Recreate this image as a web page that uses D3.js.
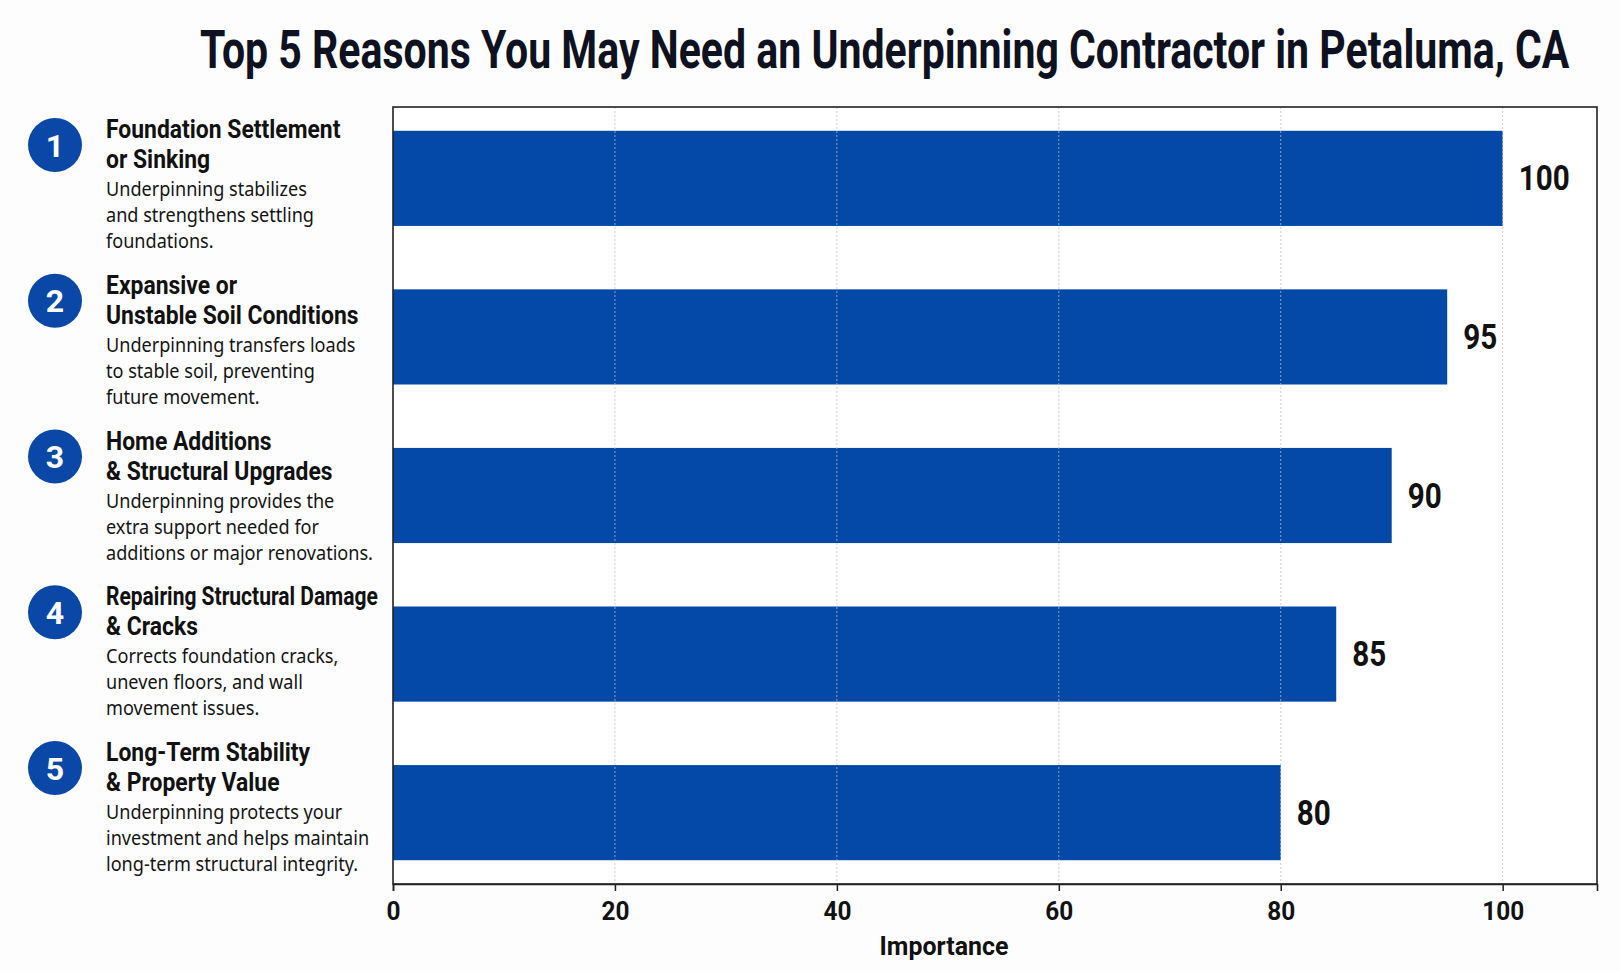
<!DOCTYPE html>
<html>
<head>
<meta charset="utf-8">
<script src="https://cdn.jsdelivr.net/npm/d3@7"></script>
<style>
  html, body { margin: 0; padding: 0; background: #fdfdfd; }
  svg { display: block; }
</style>
</head>
<body>
<div id="chart"></div>
<script>
// ========================
// Data
// ========================
const ranks = ["1", "2", "3", "4", "5"];
const titleLines = [
    ["Foundation Settlement", "or Sinking"],
    ["Expansive or", "Unstable Soil Conditions"],
    ["Home Additions", "& Structural Upgrades"],
    ["Repairing Structural Damage", "& Cracks"],
    ["Long-Term Stability", "& Property Value"]
];
const descLines = [
    ["Underpinning stabilizes", "and strengthens settling", "foundations."],
    ["Underpinning transfers loads", "to stable soil, preventing", "future movement."],
    ["Underpinning provides the", "extra support needed for", "additions or major renovations."],
    ["Corrects foundation cracks,", "uneven floors, and wall", "movement issues."],
    ["Underpinning protects your", "investment and helps maintain", "long-term structural integrity."]
];
const importance = [100, 95, 90, 85, 80];
const xTicks = [0, 20, 40, 60, 80, 100];

const chartTitle = "Top 5 Reasons You May Need an Underpinning Contractor in Petaluma, CA";
const xLabel = "Importance";

// ========================
// Setup
// ========================
const width = 1620, height = 971;
const plot = { left: 393, right: 1597, top: 107, bottom: 884 };
const blue = "#0449a8";
const boldFont = "Roboto, 'Noto Sans', sans-serif";
const bodyFont = "'Noto Sans', 'Open Sans', sans-serif";

const svg = d3.select("#chart")
    .append("svg")
    .attr("width", width)
    .attr("height", height);

svg.append("rect")
    .attr("width", width).attr("height", height)
    .attr("fill", "#fdfdfd");

// condensed look: squeeze text horizontally by sx
function addText(parent, str, x, y, opts) {
    const g = parent.append("g")
        .attr("transform", `translate(${x},${y}) scale(${opts.sx || 1},1)`);
    return g.append("text")
        .attr("font-family", opts.family)
        .attr("font-weight", opts.weight || "normal")
        .attr("font-size", opts.size)
        .attr("fill", opts.fill || "#111")
        .attr("text-anchor", opts.anchor || "start")
        .text(str);
}

function measure(str, family, weight, size) {
    const t = svg.append("text")
        .attr("font-family", family)
        .attr("font-weight", weight)
        .attr("font-size", size)
        .text(str);
    const w = t.node().getComputedTextLength();
    t.remove();
    return w;
}

const cats = ranks;
const x = d3.scaleLinear()
    .domain([0, 108.5])
    .range([plot.left, plot.right]);

const y = d3.scaleBand()
    .domain(cats)
    .range([plot.top, plot.bottom])
    .paddingInner(0.4)
    .paddingOuter(0.15);

const listY = d3.scalePoint()
    .domain(cats)
    .range([145, 768]);

// ========================
// Title
// ========================
const titleScale = 1370 / measure(chartTitle, boldFont, "bold", 53);
addText(svg, chartTitle, 200, 68, {
    family: boldFont, weight: "bold", size: 53, fill: "#0e1220", sx: titleScale
});

// ========================
// Plot area
// ========================
svg.append("rect")
    .attr("x", plot.left).attr("y", plot.top)
    .attr("width", plot.right - plot.left)
    .attr("height", plot.bottom - plot.top)
    .attr("fill", "#ffffff");

// bars
svg.selectAll(".bar")
    .data(importance)
    .enter()
    .append("rect")
    .attr("class", "bar")
    .attr("x", x(0))
    .attr("y", (d, i) => y(cats[i]))
    .attr("width", d => x(d) - x(0))
    .attr("height", y.bandwidth())
    .attr("fill", blue);

// gridlines (drawn over the bars, faint)
svg.selectAll(".grid")
    .data(xTicks.filter(t => t > 0))
    .enter()
    .append("line")
    .attr("class", "grid")
    .attr("x1", d => x(d)).attr("x2", d => x(d))
    .attr("y1", plot.top).attr("y2", plot.bottom)
    .attr("stroke", "#bdbdbd")
    .attr("stroke-opacity", 0.75)
    .attr("stroke-width", 1)
    .attr("stroke-dasharray", "2,2");

// value labels
const valScale = 51 / measure("100", boldFont, "bold", 35);
importance.forEach((d, i) => {
    addText(svg, d, x(d) + 16, y(cats[i]) + y.bandwidth() / 2 + 12, {
        family: boldFont, weight: "bold", size: 35, fill: "#111", sx: valScale
    });
});

// frame
svg.append("rect")
    .attr("x", plot.left).attr("y", plot.top)
    .attr("width", plot.right - plot.left)
    .attr("height", plot.bottom - plot.top)
    .attr("fill", "none")
    .attr("stroke", "#222")
    .attr("stroke-width", 1.6);

// x axis
const xAxis = svg.append("g")
    .attr("transform", `translate(0,${plot.bottom})`)
    .call(d3.axisBottom(x).tickValues(xTicks).tickSize(7).tickFormat(d3.format("d")));

xAxis.select(".domain").attr("stroke", "#222").attr("stroke-width", 1.6);
xAxis.selectAll(".tick line").attr("stroke", "#222").attr("stroke-width", 1.5);
const tickScale = 42 / measure("100", boldFont, "bold", 25);
xAxis.selectAll(".tick text")
    .attr("font-family", boldFont)
    .attr("font-weight", "bold")
    .attr("font-size", 25)
    .attr("fill", "#111")
    .attr("y", 36)
    .attr("dy", 0)
    .attr("transform", `scale(${tickScale},1)`);

const xLabScale = 129 / measure(xLabel, boldFont, "bold", 25);
addText(svg, xLabel, 944, 955, {
    family: boldFont, weight: "bold", size: 25, fill: "#111", anchor: "middle", sx: xLabScale
});

// ========================
// Left list
// ========================
// widths of a few heading / body lines
const headScale = (236 + 251) / (
    measure("Foundation Settlement", boldFont, "bold", 25) +
    measure("Unstable Soil Conditions", boldFont, "bold", 25));
const headMax = 272; // longest heading must stay clear of the plot frame
const bodyScale = (263 + 268 + 249) / (
    measure("additions or major renovations.", bodyFont, "normal", 20) +
    measure("investment and helps maintain", bodyFont, "normal", 20) +
    measure("Underpinning transfers loads", bodyFont, "normal", 20));

cats.forEach((c, i) => {
    const cy = listY(c);

    svg.append("circle")
        .attr("cx", 55).attr("cy", cy)
        .attr("r", 27)
        .attr("fill", "#0a47a6");

    svg.append("text")
        .attr("x", 55).attr("y", cy + 11.5)
        .attr("text-anchor", "middle")
        .attr("font-family", boldFont)
        .attr("font-weight", "bold")
        .attr("font-size", 32)
        .attr("fill", "#ffffff")
        .text(c);

    const tx = 106;
    titleLines[i].forEach((line, j) => {
        const w = measure(line, boldFont, "bold", 25);
        addText(svg, line, tx, cy - 7 + j * 30, {
            family: boldFont, weight: "bold", size: 25, fill: "#111",
            sx: Math.min(headScale, headMax / w)
        });
    });

    descLines[i].forEach((line, j) => {
        addText(svg, line, tx, cy + 51 + j * 26, {
            family: bodyFont, weight: "normal", size: 20, fill: "#141414", sx: bodyScale
        });
    });
});
</script>
</body>
</html>
